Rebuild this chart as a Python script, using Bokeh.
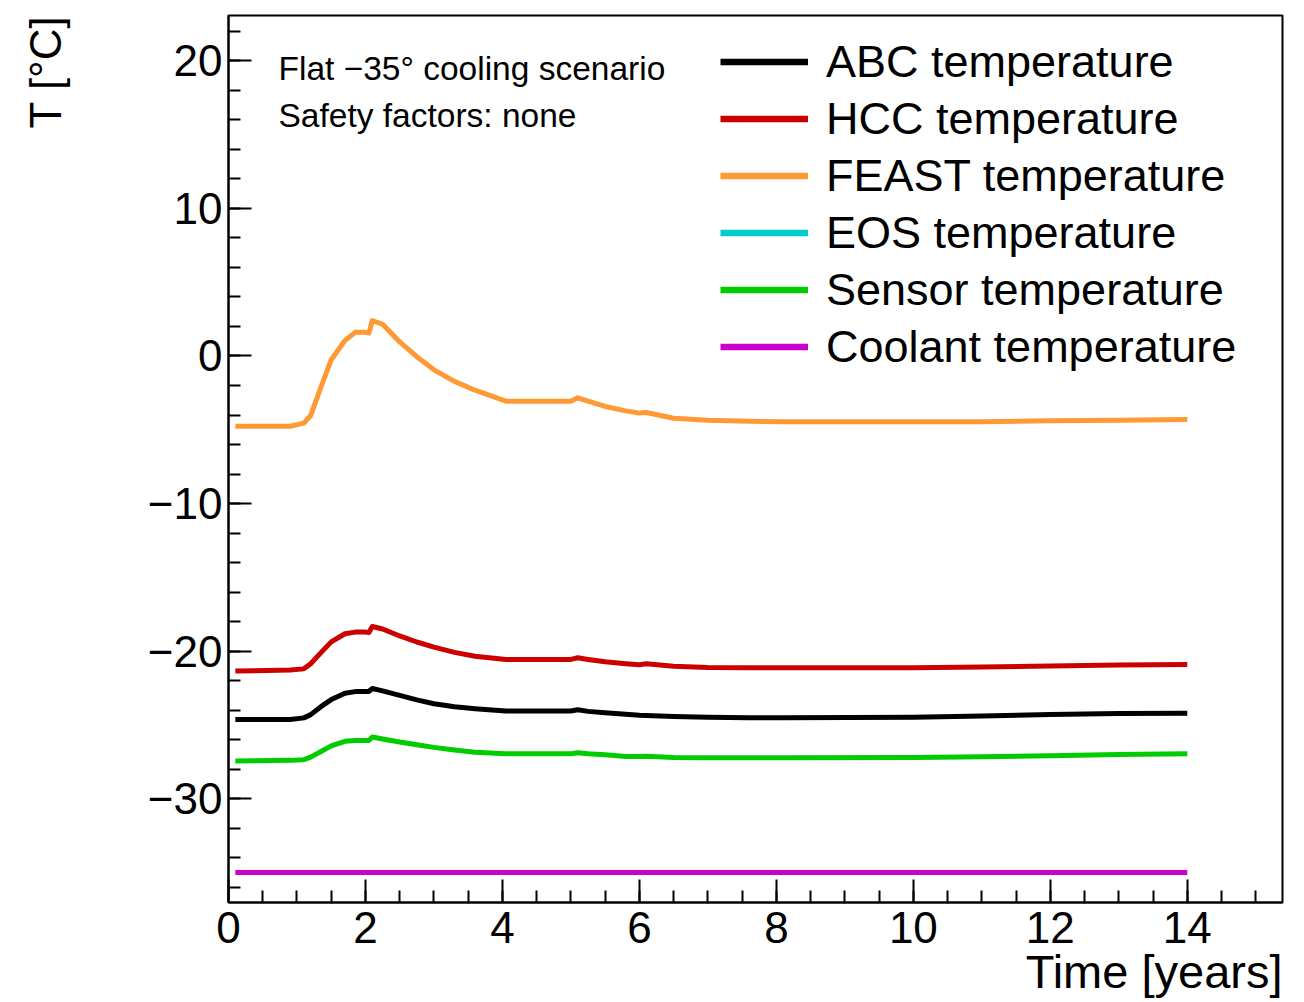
import math
from bokeh.plotting import figure
from bokeh.models import (Range1d, FixedTicker, Label, Legend, LegendItem, Title,
                          ColumnDataSource, CDSView, IndexFilter)
from bokeh.embed import file_html
from bokeh.resources import INLINE

# ---- data ----
time_years = [0.1, 0.9, 1.1, 1.2, 1.35, 1.5, 1.7, 1.85, 2.0, 2.05, 2.1, 2.25, 2.5, 2.75,
              3.0, 3.3, 3.6, 4.05, 5.0, 5.1, 5.25, 5.5, 5.8, 6.0, 6.1, 6.5, 7.0, 7.6,
              8.1, 10.0, 11.0, 12.0, 13.0, 14.0]

abc_temp = [-24.63, -24.63, -24.52, -24.30, -23.76, -23.28, -22.85, -22.74, -22.73, -22.73,
            -22.53, -22.69, -23.00, -23.30, -23.56, -23.77, -23.90, -24.06, -24.06, -23.97,
            -24.08, -24.18, -24.27, -24.35, -24.36, -24.42, -24.48, -24.51, -24.51, -24.47,
            -24.40, -24.30, -24.22, -24.20]

hcc_temp = [-21.35, -21.27, -21.20, -20.85, -20.10, -19.37, -18.82, -18.71, -18.71, -18.74,
            -18.33, -18.50, -18.97, -19.38, -19.73, -20.08, -20.34, -20.56, -20.56, -20.45,
            -20.56, -20.72, -20.85, -20.92, -20.86, -21.02, -21.10, -21.13, -21.13, -21.13,
            -21.08, -21.00, -20.94, -20.90]

feast_temp = [-4.76, -4.76, -4.55, -4.03, -2.10, -0.25, 1.05, 1.60, 1.60, 1.55,
              2.40, 2.15, 0.95, -0.05, -0.94, -1.72, -2.32, -3.06, -3.06, -2.83,
              -3.06, -3.42, -3.72, -3.87, -3.83, -4.22, -4.35, -4.43, -4.46, -4.46,
              -4.46, -4.38, -4.35, -4.30]

# EOS curve is not visible in the reference (no readable values)
eos_temp = [float("nan")] * len(time_years)

sensor_temp = [-27.45, -27.40, -27.35, -27.18, -26.80, -26.42, -26.11, -26.05, -26.05, -26.05,
               -25.82, -25.95, -26.15, -26.34, -26.52, -26.70, -26.85, -26.95, -26.95, -26.88,
               -26.95, -27.02, -27.13, -27.14, -27.12, -27.20, -27.22, -27.22, -27.22, -27.20,
               -27.15, -27.08, -27.00, -26.95]

coolant_temp = [-35.0] * len(time_years)

series_names = ["ABC temperature", "HCC temperature", "FEAST temperature",
                "EOS temperature", "Sensor temperature", "Coolant temperature"]
series_colors = ["#000000", "#cc0000", "#ff9933", "#00cccc", "#00cc00", "#cc00cc"]

x_major = [0, 2, 4, 6, 8, 10, 12, 14]
x_minor = [i * 0.5 for i in range(0, 31)]
y_major = [-30, -20, -10, 0, 10, 20]
y_minor = list(range(-36, 23, 2))
y_tick_text = {-30: "\u221230", -20: "\u221220", -10: "\u221210", 0: "0", 10: "10", 20: "20"}

FONT = "Liberation Sans"

p = figure(width=1304, height=1002, output_backend="svg", toolbar_location=None,
           x_range=Range1d(0, 15.39), y_range=Range1d(-37.03, 23.07),
           min_border_left=228, min_border_right=22, min_border_top=15, min_border_bottom=100)
p.grid.visible = False
p.outline_line_color = "black"
p.outline_line_width = 2
p.background_fill_color = "white"
p.border_fill_color = "white"

p.xaxis.ticker = FixedTicker(ticks=x_major, minor_ticks=x_minor)
p.yaxis.ticker = FixedTicker(ticks=y_major, minor_ticks=y_minor)
p.yaxis.major_label_overrides = y_tick_text
for ax in (p.xaxis[0], p.yaxis[0]):
    ax.axis_line_width = 2
    ax.axis_line_color = "black"
    ax.major_tick_line_width = 2
    ax.minor_tick_line_width = 2
    ax.major_tick_line_color = "black"
    ax.minor_tick_line_color = "black"
    ax.major_tick_in = 23
    ax.major_tick_out = 0
    ax.minor_tick_in = 12
    ax.minor_tick_out = 0
    ax.major_label_text_font = FONT
    ax.major_label_text_font_size = "44px"
    ax.major_label_text_color = "black"
p.yaxis.major_label_standoff = 6
p.xaxis.major_label_standoff = 9

series_values = [abc_temp, hcc_temp, feast_temp, eos_temp, sensor_temp, coolant_temp]

items = []
for name, ys, c in zip(series_names, series_values, series_colors):
    src = ColumnDataSource(data=dict(x=time_years, y=ys))
    p.line(x="x", y="y", source=src, line_color=c, line_width=5, line_join="round")
    # legend swatch: a one-point view of the same source (draws nothing in the frame)
    proxy = p.line(x="x", y="y", source=src, view=CDSView(filter=IndexFilter(indices=[0])),
                   line_color=c, line_width=6.5)
    items.append(LegendItem(label=name, renderers=[proxy]))

legend = Legend(items=items, location=(492, 527), orientation="vertical",
                glyph_width=88, glyph_height=57, label_height=57, label_standoff=18,
                spacing=0, padding=0, margin=0, border_line_alpha=0,
                background_fill_alpha=0, label_text_font=FONT,
                label_text_font_size="45px", label_text_color="black")
p.add_layout(legend, "center")

p.add_layout(Label(x=50, y=834, x_units="screen", y_units="screen",
                   text="Flat \u221235\u00b0 cooling scenario", text_font=FONT,
                   text_font_size="33.5px", text_baseline="middle", text_color="black"))
p.add_layout(Label(x=50, y=787, x_units="screen", y_units="screen",
                   text="Safety factors: none", text_font=FONT,
                   text_font_size="33.5px", text_baseline="middle", text_color="black"))

# axis titles (ROOT style: at the end of the axes)
p.add_layout(Title(text=" ", text_font_size="2px", standoff=65), "left")
p.add_layout(Title(text="T [\u00b0C]", align="right", vertical_align="middle", standoff=10,
                   text_font=FONT, text_font_size="44px", text_font_style="normal",
                   text_color="black"), "left")
p.add_layout(Title(text="Time [years]", align="right", vertical_align="top", standoff=-2,
                   text_font=FONT, text_font_size="47px", text_font_style="normal",
                   text_color="black"), "below")

open("out.html", "w").write(file_html(p, INLINE))
